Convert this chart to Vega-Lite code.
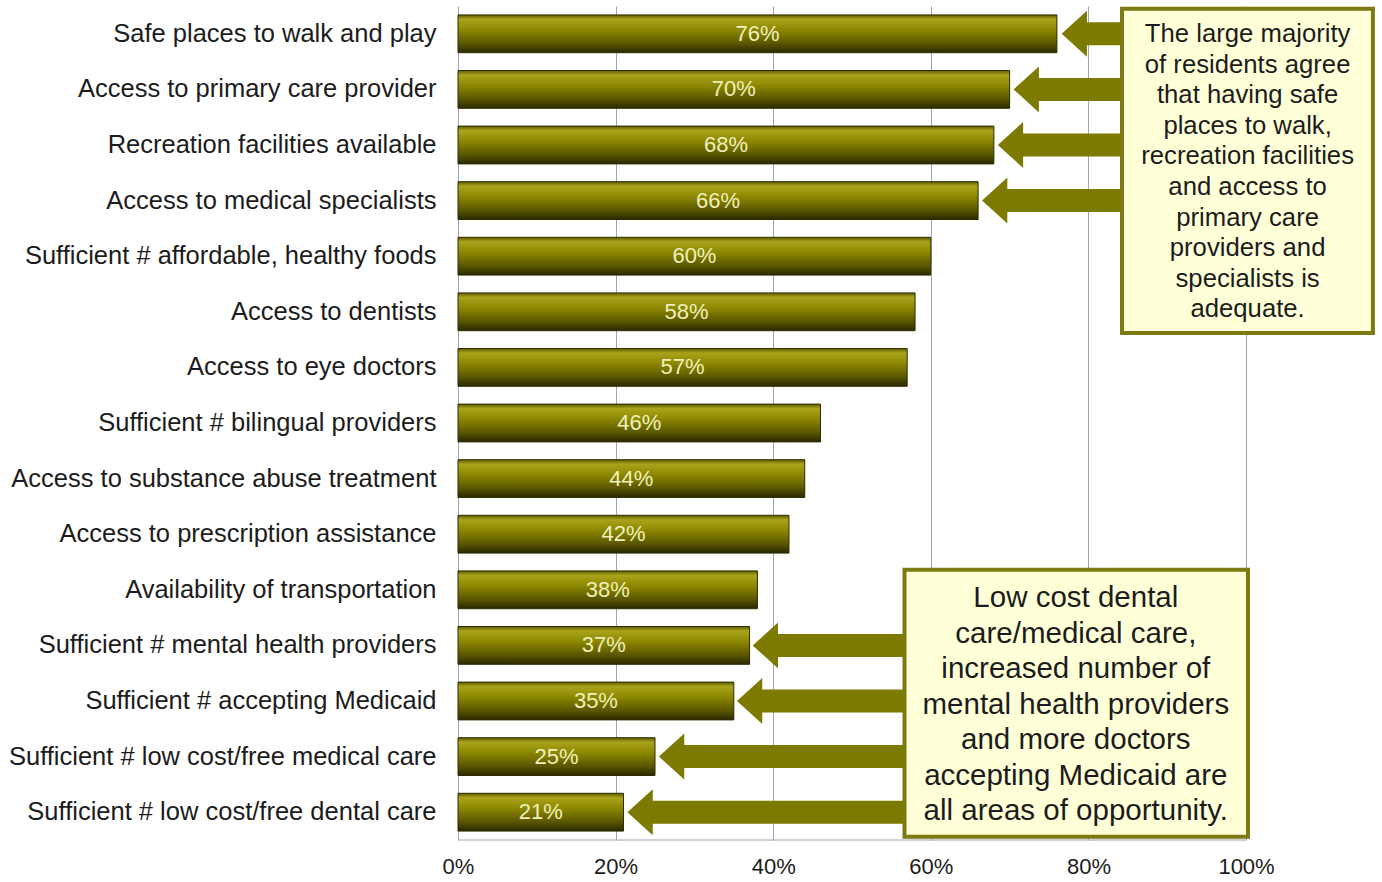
{
  "$schema": "https://vega.github.io/schema/vega-lite/v6.json",
  "width": 922,
  "height": 834,
  "autosize": {"type": "none"},
  "padding": {"left": 458, "top": 6, "right": 2, "bottom": 42},
  "background": "white",
  "config": {"font": "Liberation Sans", "view": {"stroke": null}},
  "datasets": {
    "bars": [
      {"category": "Safe places to walk and play", "value": 0.76},
      {"category": "Access to primary care provider", "value": 0.70},
      {"category": "Recreation facilities available", "value": 0.68},
      {"category": "Access to medical specialists", "value": 0.66},
      {"category": "Sufficient # affordable, healthy foods", "value": 0.60},
      {"category": "Access to dentists", "value": 0.58},
      {"category": "Access to eye doctors", "value": 0.57},
      {"category": "Sufficient # bilingual providers", "value": 0.46},
      {"category": "Access to substance abuse treatment", "value": 0.44},
      {"category": "Access to prescription assistance", "value": 0.42},
      {"category": "Availability of transportation", "value": 0.38},
      {"category": "Sufficient # mental health providers", "value": 0.37},
      {"category": "Sufficient # accepting Medicaid", "value": 0.35},
      {"category": "Sufficient # low cost/free medical care", "value": 0.25},
      {"category": "Sufficient # low cost/free dental care", "value": 0.21}
    ],
    "arrows": [
      {"category": "Safe places to walk and play", "tip": 0.766, "back": 0.794, "tail": 0.843},
      {"category": "Access to primary care provider", "tip": 0.705, "back": 0.733, "tail": 0.843},
      {"category": "Recreation facilities available", "tip": 0.685, "back": 0.713, "tail": 0.843},
      {"category": "Access to medical specialists", "tip": 0.665, "back": 0.693, "tail": 0.843},
      {"category": "Sufficient # mental health providers", "tip": 0.374, "back": 0.402, "tail": 0.567},
      {"category": "Sufficient # accepting Medicaid", "tip": 0.354, "back": 0.382, "tail": 0.567},
      {"category": "Sufficient # low cost/free medical care", "tip": 0.255, "back": 0.283, "tail": 0.567},
      {"category": "Sufficient # low cost/free dental care", "tip": 0.215, "back": 0.243, "tail": 0.567}
    ],
    "boxes": [
      {"x": 0.8426, "x2": 1.161, "y": 0.05, "y2": 5.88},
      {"x": 0.5666, "x2": 1.0025, "y": 10.14, "y2": 14.94}
    ]
  },
  "layer": [
    {
      "layer": [
        {
          "data": {"name": "bars"},
          "mark": {
            "type": "bar",
            "fill": {
              "gradient": "linear", "x1": 0, "y1": 0, "x2": 0, "y2": 1,
              "stops": [
                {"offset": 0, "color": "#5e5b00"},
                {"offset": 0.12, "color": "#aaa41c"},
                {"offset": 0.4, "color": "#8c8700"},
                {"offset": 0.75, "color": "#5a5700"},
                {"offset": 1, "color": "#2a2900"}
              ]
            },
            "stroke": "#2e2d00",
            "strokeWidth": 1
          },
          "encoding": {
            "y": {
              "field": "category", "type": "nominal", "title": null,
              "scale": {
                "domain": ["Safe places to walk and play", "Access to primary care provider", "Recreation facilities available", "Access to medical specialists", "Sufficient # affordable, healthy foods", "Access to dentists", "Access to eye doctors", "Sufficient # bilingual providers", "Access to substance abuse treatment", "Access to prescription assistance", "Availability of transportation", "Sufficient # mental health providers", "Sufficient # accepting Medicaid", "Sufficient # low cost/free medical care", "Sufficient # low cost/free dental care"],
                "paddingInner": 0.32, "paddingOuter": 0.16
              },
              "axis": {
                "domain": false, "ticks": false, "tickSize": 0, "labelPadding": 22,
                "labelFontSize": 25.5, "labelColor": "#1c1c1c", "labelLimit": 600,
                "grid": false
              }
            },
            "x": {
              "field": "value", "type": "quantitative", "title": null,
              "scale": {"domain": [0, 1.17], "nice": false, "zero": true},
              "axis": {
                "values": [0, 0.2, 0.4, 0.6, 0.8, 1.0], "format": ".0%",
                "domain": false, "ticks": false, "tickSize": 0, "labelPadding": 16,
                "labelFontSize": 22, "labelColor": "#1c1c1c", "labelFlush": false,
                "grid": true, "gridColor": "#a2a2b6", "gridWidth": 1
              }
            }
          }
        },
        {
          "data": {"name": "arrows"},
          "mark": {"type": "rule", "color": "#7c7a00", "strokeWidth": 23, "strokeCap": "butt"},
          "encoding": {
            "y": {"field": "category", "type": "nominal"},
            "x": {"field": "back", "type": "quantitative"},
            "x2": {"field": "tail"}
          }
        },
        {
          "data": {"name": "arrows"},
          "mark": {"type": "point", "shape": "M0,0L1.1,-1L1.1,1Z", "size": 2116, "filled": true, "color": "#7c7a00", "opacity": 1},
          "encoding": {
            "y": {"field": "category", "type": "nominal"},
            "x": {"field": "tip", "type": "quantitative"}
          }
        }
      ]
    },
    {
      "data": {"name": "bars"},
      "mark": {"type": "text", "align": "center", "baseline": "middle", "fontSize": 22, "color": "#f0f0bc"},
      "encoding": {
        "y": {
          "field": "category", "type": "nominal", "axis": null,
          "scale": {
            "domain": ["Safe places to walk and play", "Access to primary care provider", "Recreation facilities available", "Access to medical specialists", "Sufficient # affordable, healthy foods", "Access to dentists", "Access to eye doctors", "Sufficient # bilingual providers", "Access to substance abuse treatment", "Access to prescription assistance", "Availability of transportation", "Sufficient # mental health providers", "Sufficient # accepting Medicaid", "Sufficient # low cost/free medical care", "Sufficient # low cost/free dental care"],
            "paddingInner": 0.32, "paddingOuter": 0.16
          }
        },
        "x": {"field": "value", "type": "quantitative", "axis": null, "scale": {"domain": [0, 2.34], "nice": false, "zero": true}},
        "text": {"field": "value", "type": "quantitative", "format": ".0%"}
      }
    },
    {
      "layer": [
        {
          "data": {"name": "boxes"},
          "mark": {"type": "rect", "fill": "#ffffd8", "stroke": "#7c7a10", "strokeWidth": 4},
          "encoding": {
            "x": {"field": "x", "type": "quantitative", "axis": null, "scale": {"domain": [0, 1.17], "nice": false, "zero": true}},
            "x2": {"field": "x2"},
            "y": {"field": "y", "type": "quantitative", "axis": null, "scale": {"domain": [0, 15], "nice": false, "zero": true, "reverse": true}},
            "y2": {"field": "y2"}
          }
        },
        {
          "data": {"values": [{"from": 0, "to": 1, "at": 15}]},
          "mark": {"type": "rule", "color": "#a2a2b6", "strokeWidth": 1},
          "encoding": {
            "x": {"field": "from", "type": "quantitative"},
            "x2": {"field": "to"},
            "y": {"field": "at", "type": "quantitative"}
          }
        },
        {
          "data": {"values": [{"cx": 1.002, "cy": 0.504, "note": "The large majority\nof residents agree\nthat having safe\nplaces to walk,\nrecreation facilities\nand access to\nprimary care\nproviders and\nspecialists is\nadequate."}]},
          "mark": {"type": "text", "align": "center", "baseline": "middle", "fontSize": 25.7, "lineHeight": 30.6, "lineBreak": "\n", "color": "#1c1c1c"},
          "encoding": {
            "x": {"field": "cx", "type": "quantitative"},
            "y": {"field": "cy", "type": "quantitative"},
            "text": {"field": "note", "type": "nominal"}
          }
        },
        {
          "data": {"values": [{"cx": 0.784, "cy": 10.65, "note": "Low cost dental\ncare/medical care,\nincreased number of\nmental health providers\nand more doctors\naccepting Medicaid are\nall areas of opportunity."}]},
          "mark": {"type": "text", "align": "center", "baseline": "middle", "fontSize": 29.5, "lineHeight": 35.5, "lineBreak": "\n", "color": "#1c1c1c"},
          "encoding": {
            "x": {"field": "cx", "type": "quantitative"},
            "y": {"field": "cy", "type": "quantitative"},
            "text": {"field": "note", "type": "nominal"}
          }
        }
      ]
    }
  ],
  "resolve": {"scale": {"x": "independent", "y": "independent"}}
}
